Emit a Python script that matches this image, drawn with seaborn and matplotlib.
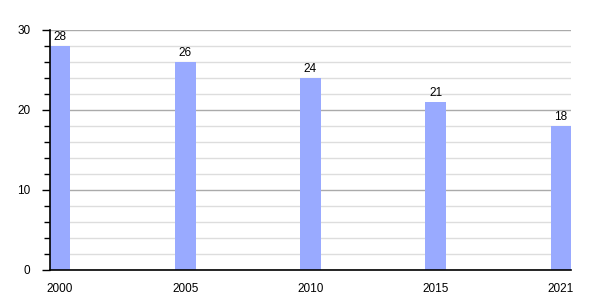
import matplotlib
matplotlib.use("Agg")
import matplotlib.pyplot as plt
import seaborn as sns
import pandas as pd
from matplotlib.ticker import MultipleLocator

years = ["2000", "2005", "2010", "2015", "2021"]
values = [28, 26, 24, 21, 18]

sns.set_theme(style="white")
plt.rcParams['font.family'] = ['Liberation Sans', 'DejaVu Sans']
plt.rcParams['text.color'] = 'black'
plt.rcParams['xtick.color'] = 'black'
plt.rcParams['ytick.color'] = 'black'

df = pd.DataFrame({"year": years, "value": values})

fig = plt.figure(figsize=(6, 3), dpi=100)
ax = fig.add_axes([50/600, 0.1, 521/600, 0.8])

sns.barplot(data=df, x="year", y="value", color="#99aaff", width=0.165,
            saturation=1, linewidth=0, edgecolor="none", ax=ax, zorder=3)

ax.set_xlim(-0.08, 4.08)
ax.set_ylim(0, 30)
ax.yaxis.set_major_locator(MultipleLocator(10))
ax.yaxis.set_minor_locator(MultipleLocator(2))
ax.grid(which="major", axis="y", color="#aaaaaa", linewidth=1, zorder=0)
ax.grid(which="minor", axis="y", color="#dddddd", linewidth=1, zorder=0)
ax.grid(axis="x", visible=False)
ax.set_axisbelow(True)

for s in ["top", "right"]:
    ax.spines[s].set_visible(False)
for s in ["left", "bottom"]:
    ax.spines[s].set_color("black")
    ax.spines[s].set_linewidth(1.2)
    ax.spines[s].set_zorder(4)

ax.tick_params(axis="y", which="major", left=True, length=6, width=1,
               color="black", labelcolor="black", labelsize=8.5, pad=8)
ax.tick_params(axis="y", which="minor", left=True, length=4, width=1,
               color="black")
ax.tick_params(axis="x", bottom=False, labelsize=8.5, labelcolor="black", pad=3)
ax.set_xlabel("")
ax.set_ylabel("")

ax.bar_label(ax.containers[0], padding=2, fontsize=8.5, color="black")

fig.savefig("out.png", dpi=100)
